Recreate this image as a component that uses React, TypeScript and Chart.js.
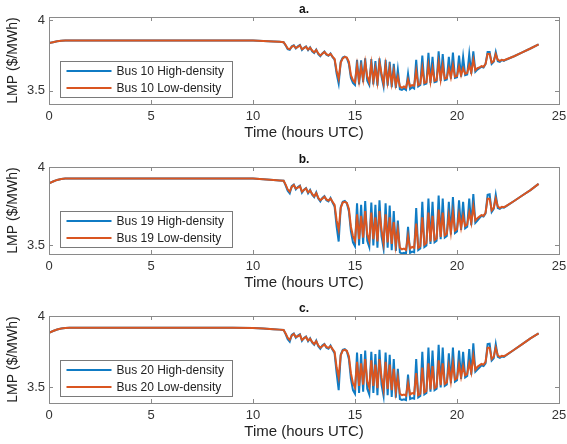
import React, { useEffect, useRef } from "react";
import { Chart, registerables } from "chart.js";

Chart.register(...registerables);

// ---------------- data ----------------
const TIME_HOURS = [
  0, 0.2, 0.4, 0.6, 0.8, 1, 2, 3, 4, 5, 6, 7, 8, 9, 10, 10.5, 11, 11.3,
  11.5, 11.6, 11.7, 11.8, 11.9,
  12.0, 12.1, 12.2, 12.3, 12.4, 12.5, 12.6, 12.7, 12.8, 12.9,
  13.0, 13.1, 13.2, 13.3, 13.4, 13.5, 13.6, 13.7, 13.8, 13.9,
  14.0, 14.1, 14.2, 14.3, 14.4, 14.5, 14.6, 14.7, 14.8, 14.9,
  15.0, 15.1, 15.2, 15.3, 15.4, 15.5, 15.6, 15.7, 15.8, 15.9,
  16.0, 16.1, 16.2, 16.3, 16.4, 16.5, 16.6, 16.7, 16.8, 16.9,
  17.0, 17.1, 17.2, 17.3, 17.4, 17.5, 17.6, 17.7, 17.8, 17.9,
  18.0, 18.1, 18.2, 18.3, 18.4, 18.5, 18.6, 18.7, 18.8, 18.9,
  19.0, 19.1, 19.2, 19.3, 19.4, 19.5, 19.6, 19.7, 19.8, 19.9,
  20.0, 20.1, 20.2, 20.3, 20.4, 20.5, 20.6, 20.7, 20.8, 20.9,
  21.0, 21.1, 21.2, 21.3, 21.4, 21.5, 21.6, 21.7, 21.8, 21.9,
  22.0, 22.1, 22.2, 22.3, 22.4,
  22.8, 23.2, 23.6, 24.0,
];

const BUS10_LOW = [
  3.838, 3.845, 3.851, 3.855, 3.857, 3.857, 3.857, 3.857, 3.857, 3.857, 3.857, 3.857, 3.857, 3.857, 3.856, 3.853, 3.850, 3.848,
  3.845, 3.825, 3.800, 3.795, 3.812,
  3.820, 3.803, 3.812, 3.822, 3.795, 3.803, 3.812, 3.792, 3.805, 3.785,
  3.772, 3.790, 3.765, 3.750, 3.762, 3.775, 3.760, 3.752, 3.762, 3.742,
  3.725, 3.640, 3.585, 3.700, 3.730, 3.740, 3.735, 3.705, 3.610, 3.575,
  3.560, 3.680, 3.570, 3.670, 3.580, 3.700, 3.600, 3.560, 3.690, 3.570,
  3.660, 3.560, 3.700, 3.620, 3.550, 3.680, 3.560, 3.660, 3.550, 3.640,
  3.540, 3.600, 3.530, 3.520, 3.530, 3.520, 3.580, 3.530, 3.540, 3.535,
  3.640, 3.540, 3.550, 3.660, 3.555, 3.560, 3.680, 3.565, 3.660, 3.570,
  3.575, 3.700, 3.580, 3.680, 3.585, 3.590, 3.660, 3.595, 3.680, 3.600,
  3.605, 3.670, 3.610, 3.660, 3.620, 3.625, 3.680, 3.630, 3.720, 3.645,
  3.660, 3.665, 3.675, 3.670, 3.690, 3.760, 3.760, 3.700, 3.710, 3.760,
  3.720, 3.712, 3.720, 3.715, 3.722,
  3.745, 3.772, 3.800, 3.830,
];

const BUS10_HIGH = [
  3.838, 3.845, 3.851, 3.855, 3.857, 3.857, 3.857, 3.857, 3.857, 3.857, 3.857, 3.857, 3.857, 3.857, 3.856, 3.853, 3.850, 3.848,
  3.845, 3.822, 3.795, 3.790, 3.815,
  3.822, 3.800, 3.815, 3.825, 3.790, 3.805, 3.815, 3.788, 3.808, 3.780,
  3.768, 3.792, 3.760, 3.745, 3.765, 3.778, 3.756, 3.748, 3.765, 3.738,
  3.720, 3.620, 3.550, 3.705, 3.735, 3.742, 3.732, 3.690, 3.590, 3.555,
  3.540, 3.720, 3.545, 3.715, 3.560, 3.730, 3.570, 3.540, 3.725, 3.545,
  3.710, 3.535, 3.730, 3.600, 3.530, 3.720, 3.535, 3.705, 3.525, 3.690,
  3.520, 3.650, 3.510, 3.505, 3.515, 3.505, 3.620, 3.512, 3.525, 3.515,
  3.720, 3.530, 3.540, 3.750, 3.545, 3.550, 3.770, 3.555, 3.740, 3.560,
  3.565, 3.780, 3.570, 3.760, 3.575, 3.580, 3.740, 3.585, 3.770, 3.590,
  3.595, 3.750, 3.600, 3.740, 3.610, 3.615, 3.760, 3.620, 3.780, 3.635,
  3.650, 3.660, 3.670, 3.665, 3.690, 3.775, 3.775, 3.690, 3.705, 3.775,
  3.710, 3.705, 3.718, 3.712, 3.720,
  3.745, 3.772, 3.800, 3.830,
];

const BUS19_LOW = [
  3.898, 3.910, 3.920, 3.926, 3.929, 3.930, 3.930, 3.930, 3.930, 3.930, 3.930, 3.930, 3.930, 3.930, 3.929, 3.925, 3.920, 3.917,
  3.915, 3.890, 3.860, 3.845, 3.875,
  3.887, 3.865, 3.870, 3.880, 3.845, 3.855, 3.865, 3.840, 3.852, 3.830,
  3.815, 3.835, 3.805, 3.790, 3.800, 3.812, 3.795, 3.788, 3.800, 3.780,
  3.760, 3.660, 3.600, 3.740, 3.775, 3.780, 3.772, 3.735, 3.620, 3.560,
  3.530, 3.700, 3.540, 3.690, 3.550, 3.720, 3.570, 3.530, 3.710, 3.540,
  3.680, 3.525, 3.720, 3.600, 3.515, 3.700, 3.520, 3.680, 3.510, 3.650,
  3.500, 3.600, 3.485, 3.475, 3.480, 3.472, 3.560, 3.480, 3.490, 3.485,
  3.640, 3.485, 3.495, 3.680, 3.505, 3.515, 3.710, 3.525, 3.690, 3.535,
  3.545, 3.730, 3.555, 3.710, 3.565, 3.575, 3.690, 3.585, 3.710, 3.595,
  3.605, 3.700, 3.615, 3.690, 3.625, 3.635, 3.710, 3.645, 3.750, 3.660,
  3.675, 3.685, 3.695, 3.690, 3.710, 3.800, 3.800, 3.725, 3.740, 3.800,
  3.750, 3.740, 3.748, 3.745, 3.752,
  3.785, 3.820, 3.855, 3.895,
];

const BUS19_HIGH = [
  3.898, 3.910, 3.920, 3.926, 3.929, 3.930, 3.930, 3.930, 3.930, 3.930, 3.930, 3.930, 3.930, 3.930, 3.929, 3.925, 3.920, 3.917,
  3.915, 3.885, 3.850, 3.834, 3.880,
  3.890, 3.860, 3.875, 3.884, 3.838, 3.858, 3.868, 3.835, 3.856, 3.825,
  3.810, 3.840, 3.800, 3.782, 3.805, 3.816, 3.790, 3.782, 3.805, 3.775,
  3.750, 3.620, 3.525, 3.745, 3.780, 3.785, 3.770, 3.720, 3.590, 3.520,
  3.495, 3.770, 3.500, 3.760, 3.510, 3.785, 3.530, 3.490, 3.775, 3.500,
  3.760, 3.485, 3.790, 3.560, 3.480, 3.770, 3.485, 3.755, 3.470, 3.720,
  3.465, 3.660, 3.455, 3.448, 3.452, 3.445, 3.620, 3.452, 3.460, 3.455,
  3.740, 3.470, 3.480, 3.780, 3.490, 3.500, 3.800, 3.510, 3.780, 3.520,
  3.530, 3.820, 3.540, 3.800, 3.550, 3.560, 3.780, 3.570, 3.810, 3.580,
  3.590, 3.790, 3.600, 3.780, 3.610, 3.620, 3.800, 3.630, 3.830, 3.645,
  3.660, 3.675, 3.690, 3.685, 3.705, 3.825, 3.828, 3.715, 3.735, 3.825,
  3.740, 3.735, 3.745, 3.742, 3.750,
  3.785, 3.820, 3.855, 3.895,
];

const BUS20_LOW = [
  3.885, 3.897, 3.908, 3.915, 3.918, 3.920, 3.920, 3.920, 3.920, 3.920, 3.920, 3.920, 3.920, 3.920, 3.919, 3.915, 3.910, 3.907,
  3.905, 3.880, 3.850, 3.835, 3.865,
  3.877, 3.855, 3.860, 3.870, 3.835, 3.845, 3.855, 3.830, 3.842, 3.820,
  3.805, 3.825, 3.795, 3.780, 3.790, 3.802, 3.785, 3.778, 3.790, 3.770,
  3.750, 3.640, 3.570, 3.725, 3.760, 3.765, 3.758, 3.720, 3.600, 3.530,
  3.500, 3.680, 3.510, 3.670, 3.520, 3.700, 3.540, 3.500, 3.690, 3.510,
  3.660, 3.495, 3.700, 3.570, 3.485, 3.680, 3.490, 3.660, 3.480, 3.630,
  3.470, 3.570, 3.455, 3.445, 3.450, 3.442, 3.530, 3.450, 3.460, 3.455,
  3.600, 3.445, 3.455, 3.640, 3.465, 3.475, 3.670, 3.485, 3.650, 3.495,
  3.505, 3.690, 3.515, 3.670, 3.525, 3.535, 3.650, 3.545, 3.670, 3.555,
  3.565, 3.660, 3.575, 3.650, 3.585, 3.595, 3.670, 3.605, 3.720, 3.625,
  3.645, 3.655, 3.665, 3.660, 3.680, 3.780, 3.780, 3.700, 3.715, 3.780,
  3.725, 3.715, 3.722, 3.720, 3.728,
  3.765, 3.805, 3.845, 3.880,
];

const BUS20_HIGH = [
  3.885, 3.897, 3.908, 3.915, 3.918, 3.920, 3.920, 3.920, 3.920, 3.920, 3.920, 3.920, 3.920, 3.920, 3.919, 3.915, 3.910, 3.907,
  3.905, 3.875, 3.840, 3.822, 3.870,
  3.880, 3.850, 3.865, 3.874, 3.828, 3.848, 3.858, 3.825, 3.846, 3.815,
  3.800, 3.830, 3.790, 3.772, 3.795, 3.806, 3.780, 3.772, 3.795, 3.765,
  3.740, 3.600, 3.480, 3.730, 3.765, 3.770, 3.755, 3.700, 3.560, 3.480,
  3.455, 3.745, 3.460, 3.735, 3.470, 3.760, 3.490, 3.450, 3.750, 3.460,
  3.735, 3.445, 3.765, 3.520, 3.440, 3.745, 3.445, 3.730, 3.432, 3.700,
  3.428, 3.630, 3.418, 3.412, 3.416, 3.410, 3.590, 3.418, 3.425, 3.420,
  3.700, 3.430, 3.440, 3.750, 3.450, 3.460, 3.780, 3.470, 3.760, 3.480,
  3.490, 3.800, 3.500, 3.780, 3.510, 3.520, 3.740, 3.530, 3.780, 3.540,
  3.550, 3.760, 3.560, 3.750, 3.570, 3.580, 3.770, 3.590, 3.810, 3.610,
  3.625, 3.640, 3.655, 3.650, 3.670, 3.805, 3.808, 3.690, 3.705, 3.805,
  3.715, 3.708, 3.718, 3.715, 3.725,
  3.765, 3.805, 3.845, 3.880,
];

const X_TICKS = [0, 5, 10, 15, 20, 25];
const X_TICK_LABELS = ["0", "5", "10", "15", "20", "25"];
const Y_TICKS = [3.5, 4];
const Y_TICK_LABELS = ["3.5", "4"];
const PANEL_TITLES = ["a.", "b.", "c."];
const BUS_NAMES = ["Bus 10", "Bus 19", "Bus 20"];
const HIGH_SERIES = [BUS10_HIGH, BUS19_HIGH, BUS20_HIGH];
const LOW_SERIES = [BUS10_LOW, BUS19_LOW, BUS20_LOW];
const Y_MIN = [3.405, 3.445, 3.39];
const Y_MAX = [4.024, 4.003, 4.003];
const X_LABEL = "Time (hours UTC)";
const Y_LABEL = "LMP ($/MWh)";

// ---------------- styles ----------------
const BLUE = "#0F7BC4";
const ORANGE = "#DA5520";
const FONT = "'Liberation Sans', Arial, Helvetica, sans-serif";
const W = 567;
const PANEL_H = 148;
const PANEL_TOPS = [0, 150, 299];

function toPoints(xs: number[], ys: number[]) {
  return xs.map((x, i) => ({ x, y: ys[i] }));
}

const matlabPlugin = {
  id: "matlabAxes",
  afterDraw(chart: any, _args: any, opts: any) {
    const { ctx, chartArea: ca, scales } = chart;
    const xs = scales.x;
    const ys = scales.y;
    ctx.save();
    // box
    ctx.strokeStyle = "#8a8a8a";
    ctx.lineWidth = 1;
    ctx.strokeRect(Math.round(ca.left) + 0.5, Math.round(ca.top) + 0.5, Math.round(ca.right - ca.left), Math.round(ca.bottom - ca.top));
    // inward ticks
    const tl = 4;
    ctx.beginPath();
    xs.ticks.forEach((t: any) => {
      const px = Math.round(xs.getPixelForValue(t.value)) + 0.5;
      ctx.moveTo(px, ca.bottom);
      ctx.lineTo(px, ca.bottom - tl);
      ctx.moveTo(px, ca.top);
      ctx.lineTo(px, ca.top + tl);
    });
    ys.ticks.forEach((t: any) => {
      const py = Math.round(ys.getPixelForValue(t.value)) + 0.5;
      ctx.moveTo(ca.left, py);
      ctx.lineTo(ca.left + tl, py);
      ctx.moveTo(ca.right, py);
      ctx.lineTo(ca.right - tl, py);
    });
    ctx.stroke();

    // title
    ctx.fillStyle = "#111";
    ctx.font = `bold 12px ${FONT}`;
    ctx.textAlign = "center";
    ctx.textBaseline = "middle";
    ctx.fillText(opts.title, (ca.left + ca.right) / 2, ca.top - 7);

    // legend
    const ds = chart.data.datasets;
    const lw = 172;
    const lh = 36;
    const lx = Math.round(ca.left + 11) + 0.5;
    const ly = Math.round(ca.bottom - 7 - lh) + 0.5;
    ctx.fillStyle = "#ffffff";
    ctx.fillRect(lx, ly, lw, lh);
    ctx.strokeStyle = "#7a7a7a";
    ctx.lineWidth = 1;
    ctx.strokeRect(lx, ly, lw, lh);
    ctx.font = `12px ${FONT}`;
    ctx.textAlign = "left";
    ctx.textBaseline = "middle";
    ds.forEach((d: any, i: number) => {
      const ry = ly + 9.5 + i * 17;
      ctx.strokeStyle = d.borderColor;
      ctx.lineWidth = 2;
      ctx.beginPath();
      ctx.moveTo(lx + 6, ry);
      ctx.lineTo(lx + 51, ry);
      ctx.stroke();
      ctx.fillStyle = "#222";
      ctx.fillText(d.label, lx + 56, ry + 0.5);
    });
    ctx.restore();
  },
};

function Panel({ index }: { index: number }) {
  const ref = useRef<HTMLCanvasElement | null>(null);
  useEffect(() => {
    if (!ref.current) return;
    const chart = new Chart(ref.current, {
      type: "line",
      data: {
        datasets: [
          {
            label: `${BUS_NAMES[index]} High-density`,
            data: toPoints(TIME_HOURS, HIGH_SERIES[index]),
            borderColor: BLUE,
            backgroundColor: BLUE,
            borderWidth: 2,
            pointRadius: 0,
            tension: 0,
            order: 1,
          },
          {
            label: `${BUS_NAMES[index]} Low-density`,
            data: toPoints(TIME_HOURS, LOW_SERIES[index]),
            borderColor: ORANGE,
            backgroundColor: ORANGE,
            borderWidth: 2,
            pointRadius: 0,
            tension: 0,
            order: 0,
          },
        ],
      },
      options: {
        animation: false,
        responsive: false,
        maintainAspectRatio: false,
        devicePixelRatio: 1,
        events: [],
        layout: { padding: { top: 17, right: 8, left: 0, bottom: 0 } },
        plugins: {
          legend: { display: false },
          tooltip: { enabled: false },
          title: { display: false },
          matlabAxes: { title: PANEL_TITLES[index] },
        } as any,
        scales: {
          x: {
            type: "linear",
            min: 0,
            max: 25,
            afterBuildTicks: (s: any) => {
              s.ticks = X_TICKS.map((v) => ({ value: v }));
            },
            afterFit: (s: any) => {
              s.height = 44;
              s.paddingLeft = 0;
              s.paddingRight = 0;
            },
            grid: { display: false, drawTicks: false },
            border: { display: false },
            ticks: {
              padding: 5,
              maxRotation: 0,
              autoSkip: false,
              color: "#333",
              font: { size: 13, family: FONT },
              callback: (v: any) => X_TICK_LABELS[X_TICKS.indexOf(Number(v))] ?? "",
            },
            title: {
              display: true,
              text: X_LABEL,
              color: "#222",
              font: { size: 15, family: FONT },
              padding: { top: 0, bottom: 6 },
            },
          },
          y: {
            type: "linear",
            min: Y_MIN[index],
            max: Y_MAX[index],
            afterBuildTicks: (s: any) => {
              s.ticks = Y_TICKS.map((v) => ({ value: v }));
            },
            afterFit: (s: any) => {
              s.width = 49;
              s.paddingTop = 0;
              s.paddingBottom = 0;
            },
            grid: { display: false, drawTicks: false },
            border: { display: false },
            ticks: {
              padding: 4,
              color: "#333",
              font: { size: 13, family: FONT },
              callback: (v: any) => Y_TICK_LABELS[Y_TICKS.indexOf(Number(v))] ?? "",
            },
            title: {
              display: true,
              text: Y_LABEL,
              color: "#222",
              font: { size: 14, family: FONT },
              padding: { top: 5, bottom: 0 },
            },
          },
        },
      },
      plugins: [matlabPlugin],
    } as any);
    return () => chart.destroy();
  }, [index]);
  return (
    <div style={{ position: "absolute", left: 0, top: PANEL_TOPS[index], width: W, height: PANEL_H }}>
      <canvas ref={ref} width={W} height={PANEL_H} style={{ display: "block", width: W, height: PANEL_H }} />
    </div>
  );
}

export default function App() {
  return (
    <div style={{ position: "absolute", left: 0, top: 0, width: W, height: 444, background: "#fff" }}>
      <Panel index={0} />
      <Panel index={1} />
      <Panel index={2} />
    </div>
  );
}
